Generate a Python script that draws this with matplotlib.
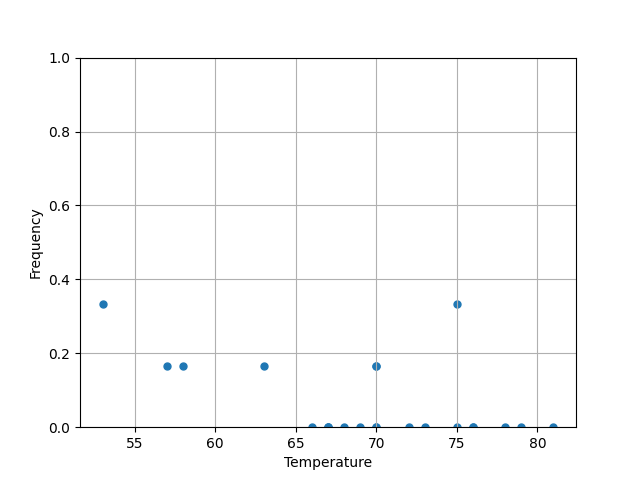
import matplotlib
matplotlib.use('Agg')
import matplotlib.pyplot as plt

temperature = [66, 70, 69, 68, 67, 72, 73, 70, 57, 63, 70, 78,
               67, 53, 67, 75, 70, 81, 76, 79, 75, 76, 58]
failures = [0, 1, 0, 0, 0, 0, 0, 0, 1, 1, 1, 0,
            0, 2, 0, 0, 0, 0, 0, 0, 2, 0, 1]
frequency = [f / 6 for f in failures]

fig, ax = plt.subplots(figsize=(6.4, 4.8), dpi=100)
ax.scatter(temperature, frequency, s=25)
ax.set_ylim(0, 1)
ax.set_xlabel('Temperature')
ax.set_ylabel('Frequency')
ax.grid(True)
fig.savefig('out.png')
